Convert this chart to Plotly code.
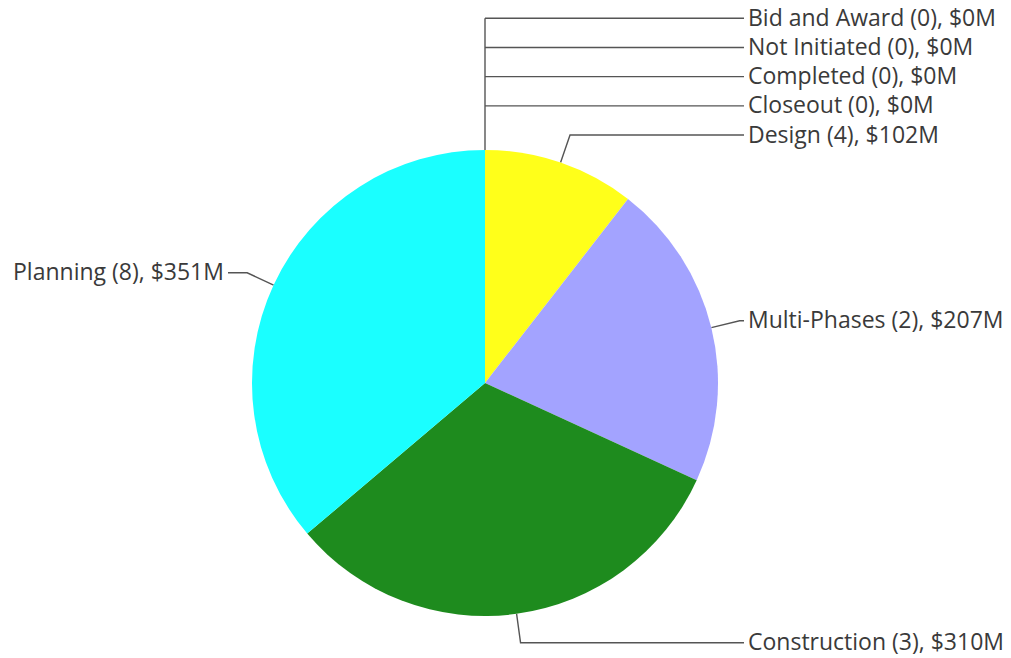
import math
import plotly.graph_objects as go

# Project phases: project counts and total budget ($M)
phases = ["Bid and Award", "Not Initiated", "Completed", "Closeout",
          "Design", "Multi-Phases", "Construction", "Planning"]
counts = [0, 0, 0, 0, 4, 2, 3, 8]
budget_m = [0, 0, 0, 0, 102, 207, 310, 351]
colors = ["#e0e0e0", "#c0c0c0", "#a0a0a0", "#808080",
          "#FFFF1A", "#A3A3FF", "#1E8B1E", "#1AFFFF"]

W, H = 1011, 658
CX, CY, R = 485, 383, 233          # pie centre / radius in pixels
BEND = 1.125                      # leader bend radius factor
RIGHT_X, LEFT_X = 744, 228        # where leaders end
ROW = 29.2                        # label row spacing
LINE_COL = "#555555"
TXT_COL = "#3a3a3a"
FONT = "Open Sans"
FSIZE = 23
TXT_DY = -1.5                     # optical centring of text on leader

labels_txt = [f"{p} ({c}), ${b}M" for p, c, b in zip(phases, counts, budget_m)]

fig = go.Figure()
fig.add_trace(go.Pie(
    labels=phases, values=budget_m, sort=False, direction="clockwise",
    rotation=0, marker=dict(colors=colors, line=dict(width=0)),
    textinfo="none", hoverinfo="skip", showlegend=False,
    domain=dict(x=[(CX - R) / W, (CX + R) / W],
                y=[(H - CY - R) / H, (H - CY + R) / H]),
))

# slice mid-angles (degrees clockwise from 12 o'clock)
total = sum(budget_m)
mids, acc = [], 0.0
for v in budget_m:
    ang = v / total * 360
    mids.append(acc + ang / 2)
    acc += ang

def pt(angle, r):
    a = math.radians(angle)
    return CX + r * math.sin(a), CY - r * math.cos(a)

annotations = []
zero_idx = [i for i, v in enumerate(budget_m) if v == 0]
nonzero_idx = [i for i, v in enumerate(budget_m) if v > 0]

# leaders for non-empty slices
label_y = {}
for i in nonzero_idx:
    ex, ey = pt(mids[i], R)
    bx, by = pt(mids[i], R * BEND)
    right = bx >= CX
    endx = RIGHT_X if right else LEFT_X
    fig.add_trace(go.Scatter(x=[ex, bx, endx], y=[ey, by, by], mode="lines",
                             line=dict(color=LINE_COL, width=1.4),
                             hoverinfo="skip", showlegend=False))
    label_y[i] = by
    annotations.append(dict(x=endx + (2 if right else -2), y=by + TXT_DY,
                            xref="x", yref="y",
                            text=labels_txt[i], showarrow=False,
                            xanchor="left" if right else "right", yanchor="middle",
                            font=dict(family=FONT, size=FSIZE, color=TXT_COL)))

# empty slices sit at 12 o'clock: stack their labels above the first label
first = nonzero_idx[0]
top_x, top_y = pt(0, R)
ys = []
y = label_y[first]
for i in reversed(zero_idx):
    y -= ROW
    ys.append((i, y))
fig.add_trace(go.Scatter(x=[top_x, top_x], y=[top_y, min(v for _, v in ys)],
                         mode="lines", line=dict(color=LINE_COL, width=1.4),
                         hoverinfo="skip", showlegend=False))
for i, yy in ys:
    fig.add_trace(go.Scatter(x=[top_x, RIGHT_X], y=[yy, yy], mode="lines",
                             line=dict(color=LINE_COL, width=1.4),
                             hoverinfo="skip", showlegend=False))
    annotations.append(dict(x=RIGHT_X + 2, y=yy + TXT_DY, xref="x", yref="y",
                            text=labels_txt[i], showarrow=False,
                            xanchor="left", yanchor="middle",
                            font=dict(family=FONT, size=FSIZE, color=TXT_COL)))

fig.update_layout(
    width=W, height=H, margin=dict(l=0, r=0, t=0, b=0),
    paper_bgcolor="white", plot_bgcolor="rgba(0,0,0,0)",
    xaxis=dict(range=[0, W], visible=False, fixedrange=True),
    yaxis=dict(range=[H, 0], visible=False, fixedrange=True),
    annotations=annotations,
)

fig.write_html("out.html")
